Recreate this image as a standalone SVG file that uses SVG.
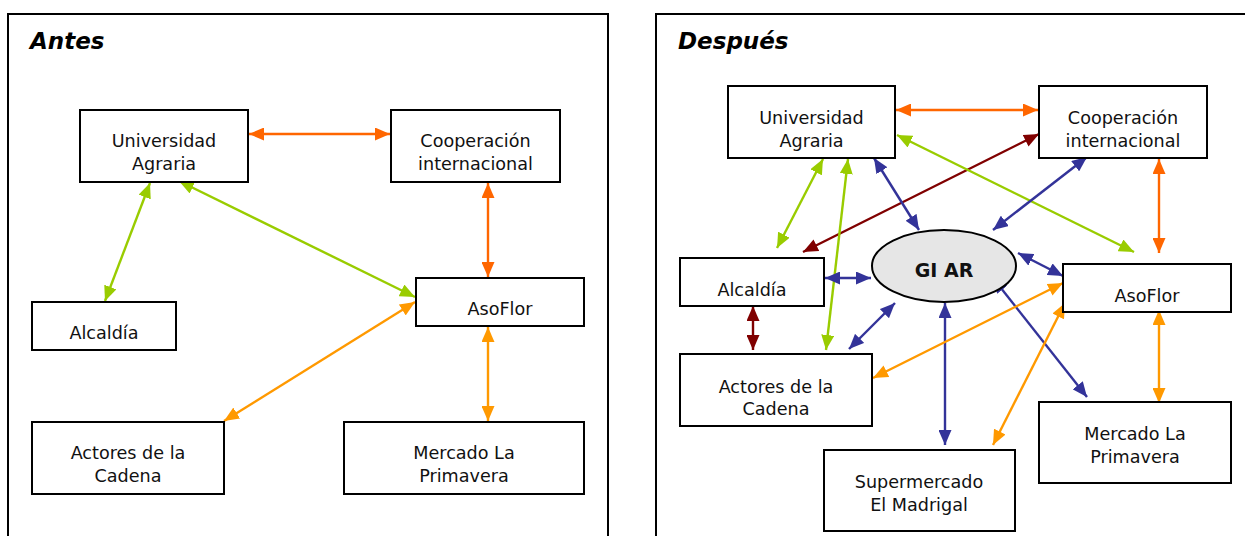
<svg xmlns="http://www.w3.org/2000/svg" width="1245" height="536" viewBox="0 0 1245 536">
<style>
.frame{fill:none;stroke:#000;stroke-width:2}
.box{fill:#fff;stroke:#000;stroke-width:2}
.t{font-family:"DejaVu Sans","Verdana",sans-serif;font-size:17.6px;fill:#111;text-anchor:middle}
.title{font-family:"DejaVu Sans",sans-serif;font-size:23px;font-weight:bold;font-style:italic;fill:#000}
.giar{font-family:"DejaVu Sans",sans-serif;font-size:19px;font-weight:bold;fill:#111;text-anchor:middle}
.c{fill:none;stroke-width:2.4}
.o{stroke:#FF6600;marker-start:url(#mO);marker-end:url(#mO)}
.g{stroke:#99CC00;marker-start:url(#mG);marker-end:url(#mG)}
.y{stroke:#FF9900;marker-start:url(#mY);marker-end:url(#mY)}
.b{stroke:#333399;marker-start:url(#mB);marker-end:url(#mB)}
.r{stroke:#800000;marker-start:url(#mR);marker-end:url(#mR)}
</style>
<defs>
<marker id="mO" viewBox="0 0 15 13" refX="15" refY="6.5" markerWidth="15" markerHeight="13" markerUnits="userSpaceOnUse" orient="auto-start-reverse"><path d="M0,0 L15,6.5 L0,13 z" fill="#FF6600"/></marker>
<marker id="mG" viewBox="0 0 15 13" refX="15" refY="6.5" markerWidth="15" markerHeight="13" markerUnits="userSpaceOnUse" orient="auto-start-reverse"><path d="M0,0 L15,6.5 L0,13 z" fill="#99CC00"/></marker>
<marker id="mY" viewBox="0 0 15 13" refX="15" refY="6.5" markerWidth="15" markerHeight="13" markerUnits="userSpaceOnUse" orient="auto-start-reverse"><path d="M0,0 L15,6.5 L0,13 z" fill="#FF9900"/></marker>
<marker id="mB" viewBox="0 0 15 13" refX="15" refY="6.5" markerWidth="15" markerHeight="13" markerUnits="userSpaceOnUse" orient="auto-start-reverse"><path d="M0,0 L15,6.5 L0,13 z" fill="#333399"/></marker>
<marker id="mR" viewBox="0 0 15 13" refX="15" refY="6.5" markerWidth="15" markerHeight="13" markerUnits="userSpaceOnUse" orient="auto-start-reverse"><path d="M0,0 L15,6.5 L0,13 z" fill="#800000"/></marker>
</defs>
<rect width="1245" height="536" fill="#fff"/>

<g id="panel-antes">
<path class="frame" d="M8,540 V14 H608 V540"/>
<text class="title" x="30" y="49">Antes</text>
</g>
<g id="panel-despues">
<path class="frame" d="M656,540 V14 H1250"/>
<text class="title" x="678" y="49">Después</text>
</g>

<g id="connectors-antes">
<line class="c o" x1="249" y1="134" x2="390" y2="134"/>
<line class="c o" x1="488" y1="183" x2="488" y2="277"/>
<line class="c g" x1="150" y1="183" x2="105" y2="301"/>
<line class="c g" x1="179" y1="181" x2="415" y2="297"/>
<line class="c y" x1="415" y1="302" x2="224" y2="421"/>
<line class="c y" x1="488" y1="327" x2="488" y2="421"/>
</g>

<g id="connectors-despues">
<line class="c o" x1="896" y1="110" x2="1038" y2="110"/>
<line class="c o" x1="1159" y1="159" x2="1159" y2="253"/>
<line class="c r" x1="1039" y1="134" x2="803" y2="252"/>
<line class="c g" x1="897" y1="135" x2="1134" y2="252"/>
<line class="c g" x1="823" y1="159" x2="777" y2="248"/>
<line class="c g" x1="848" y1="159" x2="826" y2="350"/>
<line class="c b" x1="874" y1="158" x2="919" y2="230"/>
<line class="c b" x1="1087" y1="157" x2="993" y2="230"/>
<line class="c b" x1="825" y1="278" x2="871" y2="278"/>
<line class="c b" x1="1018" y1="253" x2="1063" y2="276"/>
<line class="c b" x1="895" y1="303" x2="849" y2="349"/>
<line class="c b" x1="945" y1="303" x2="945" y2="445"/>
<line class="c b" x1="993" y1="278" x2="1087" y2="397"/>
<line class="c r" x1="753" y1="306" x2="753" y2="350"/>
<line class="c y" x1="1063" y1="283" x2="873" y2="378"/>
<line class="c y" x1="1065" y1="303" x2="993" y2="445"/>
<line class="c y" x1="1159" y1="310" x2="1159" y2="403"/>
</g>

<g id="a-universidad"><rect class="box" x="80" y="110" width="168" height="72"/><text class="t" x="164" y="147">Universidad</text><text class="t" x="164" y="170">Agraria</text></g>
<g id="a-cooperacion"><rect class="box" x="391" y="110" width="169" height="72"/><text class="t" x="475.5" y="147">Cooperación</text><text class="t" x="475.5" y="170">internacional</text></g>
<g id="a-asoflor"><rect class="box" x="416" y="278" width="168" height="48"/><text class="t" x="500" y="315">AsoFlor</text></g>
<g id="a-alcaldia"><rect class="box" x="32" y="302" width="144" height="48"/><text class="t" x="104" y="339">Alcaldía</text></g>
<g id="a-actores"><rect class="box" x="32" y="422" width="192" height="72"/><text class="t" x="128" y="459">Actores de la</text><text class="t" x="128" y="482">Cadena</text></g>
<g id="a-mercado"><rect class="box" x="344" y="422" width="240" height="72"/><text class="t" x="464" y="459">Mercado La</text><text class="t" x="464" y="482">Primavera</text></g>

<g id="d-universidad"><rect class="box" x="728" y="86" width="167" height="72"/><text class="t" x="811.5" y="124">Universidad</text><text class="t" x="811.5" y="147">Agraria</text></g>
<g id="d-cooperacion"><rect class="box" x="1039" y="86" width="168" height="72"/><text class="t" x="1123" y="124">Cooperación</text><text class="t" x="1123" y="147">internacional</text></g>
<g id="d-giar"><ellipse cx="944" cy="266" rx="72" ry="36" fill="#E6E6E6" stroke="#000" stroke-width="2"/><text class="giar" x="944" y="277">GI AR</text></g>
<g id="d-alcaldia"><rect class="box" x="680" y="258" width="144" height="48"/><text class="t" x="752" y="296">Alcaldía</text></g>
<g id="d-asoflor"><rect class="box" x="1063" y="264" width="168" height="48"/><text class="t" x="1147" y="302">AsoFlor</text></g>
<g id="d-actores"><rect class="box" x="680" y="354" width="192" height="72"/><text class="t" x="776" y="393">Actores de la</text><text class="t" x="776" y="415">Cadena</text></g>
<g id="d-supermercado"><rect class="box" x="824" y="450" width="191" height="81"/><text class="t" x="919" y="488">Supermercado</text><text class="t" x="919" y="511">El Madrigal</text></g>
<g id="d-mercado"><rect class="box" x="1039" y="402" width="192" height="81"/><text class="t" x="1135" y="440">Mercado La</text><text class="t" x="1135" y="463">Primavera</text></g>
</svg>
